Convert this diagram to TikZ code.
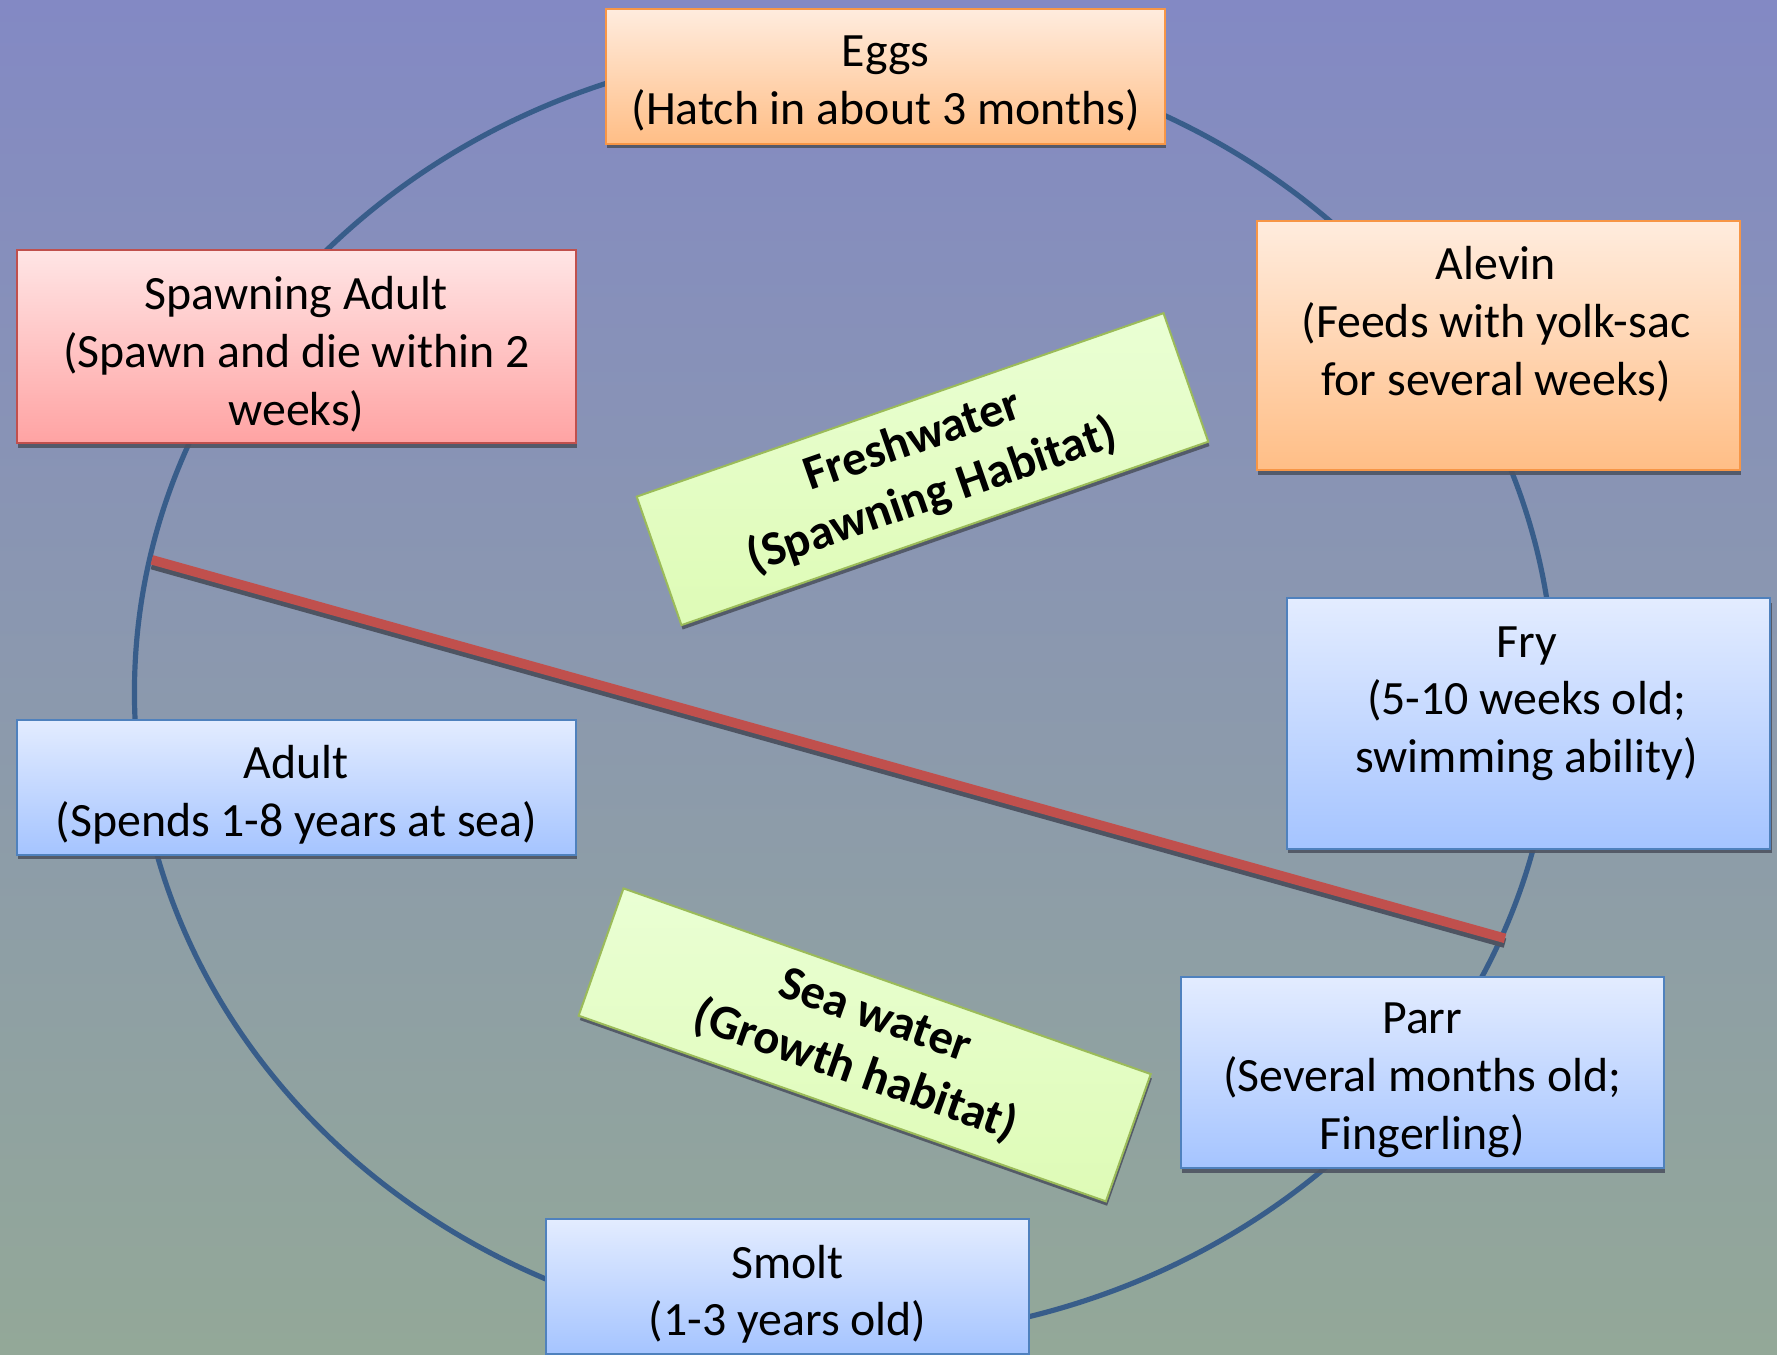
\documentclass[tikz,border=0pt]{standalone}
\usepackage{fontspec}
\setmainfont{Carlito}
\usetikzlibrary{shadows}

\definecolor{bgtop}{RGB}{131,137,196}
\definecolor{bgmid}{RGB}{140,152,172}
\definecolor{bgbot}{RGB}{147,168,152}
\definecolor{ring}{RGB}{56,93,138}
\definecolor{divider}{RGB}{192,80,77}
\definecolor{orangeline}{RGB}{247,150,70}
\definecolor{orangetop}{RGB}{255,236,222}
\definecolor{orangebot}{RGB}{255,190,134}
\definecolor{redline}{RGB}{192,80,77}
\definecolor{redtop}{RGB}{255,229,229}
\definecolor{redbot}{RGB}{255,163,163}
\definecolor{blueline}{RGB}{79,129,189}
\definecolor{bluetop}{RGB}{227,236,255}
\definecolor{bluebot}{RGB}{165,196,255}
\definecolor{greenline}{RGB}{155,187,89}
\definecolor{greentop}{RGB}{234,255,212}
\definecolor{greenbot}{RGB}{222,251,182}
\definecolor{shadowc}{RGB}{78,84,98}

\begin{document}
\begin{tikzpicture}[x=0.01cm, y=-0.01cm,
  stage/.style={draw, line width=0.5pt, align=center, inner sep=0pt,
    font=\fontsize{12}{14.5}\selectfont,
    drop shadow={shadow xshift=0.3pt, shadow yshift=-1.1pt, fill=shadowc, opacity=0.9}},
  orangebox/.style={stage, draw=orangeline, top color=orangetop, bottom color=orangebot},
  redbox/.style={stage, draw=redline, top color=redtop, bottom color=redbot},
  bluebox/.style={stage, draw=blueline, top color=bluetop, bottom color=bluebot},
  greenbox/.style={stage, draw=greenline, top color=greentop, bottom color=greenbot,
    font=\bfseries\fontsize{12.2}{14.7}\selectfont},
  stagetext/.style={align=center, inner sep=0pt, font=\fontsize{12}{14.5}\selectfont}
]
\useasboundingbox (0,0) rectangle (1568,1195);
\shade[top color=bgtop, middle color=bgmid, bottom color=bgbot] (0,0) rectangle (1568,1195);

% life-cycle ring
\coordinate (ringc) at (745,611);
\draw[ring, line width=1.3pt] (ringc) ellipse [x radius=6.26cm, y radius=5.70cm];

% freshwater / sea water divider
\coordinate (divA) at (134,494);
\coordinate (divB) at (1328,828);
\draw[shadowc, line width=2.4pt] ([yshift=-1.2pt]divA) -- ([yshift=-1.2pt]divB);
\draw[divider, line width=2.4pt] (divA) -- (divB);

% stages
\node[orangebox, minimum width=4.93cm, minimum height=1.19cm] (eggs) at (781.5,67.5) {};
\node[stagetext] (eggstext) at (781.5,74) {Eggs\\(Hatch in about 3 months)};
\node[redbox, minimum width=4.93cm, minimum height=1.70cm] (spawn) at (261.5,306) {};
\node[stagetext] (spawntext) at (261.5,312.5) {Spawning Adult\\(Spawn and die within 2\\weeks)};
\node[orangebox, minimum width=4.26cm, minimum height=2.20cm] (alevin) at (1322,305) {};
\node[stagetext] (alevintext) at (1320,286) {Alevin\\(Feeds with yolk-sac\\for several weeks)};
\node[bluebox, minimum width=4.26cm, minimum height=2.21cm] (fry) at (1349,638.5) {};
\node[stagetext] (frytext) at (1347,621) {Fry\\(5-10 weeks old;\\swimming ability)};
\node[bluebox, minimum width=4.93cm, minimum height=1.19cm] (adult) at (261.5,694.5) {};
\node[stagetext] (adulttext) at (261.5,701) {Adult\\(Spends 1-8 years at sea)};
\node[bluebox, minimum width=4.26cm, minimum height=1.69cm] (parr) at (1255,946.5) {};
\node[stagetext] (parrtext) at (1255,953) {Parr\\(Several months old;\\Fingerling)};
\node[bluebox, minimum width=4.26cm, minimum height=1.19cm] (smolt) at (695,1135.5) {};
\node[stagetext] (smolttext) at (695,1142) {Smolt\\(1-3 years old)};

% habitats
\node[greenbox, rotate=19.2, minimum width=4.92cm, minimum height=1.20cm] (fresh) at (814,414)
  {Freshwater\\(Spawning Habitat)};
\node[greenbox, rotate=-19.4, minimum width=4.93cm, minimum height=1.19cm] (sea) at (763,922)
  {Sea water\\(Growth habitat)};
\end{tikzpicture}
\end{document}
